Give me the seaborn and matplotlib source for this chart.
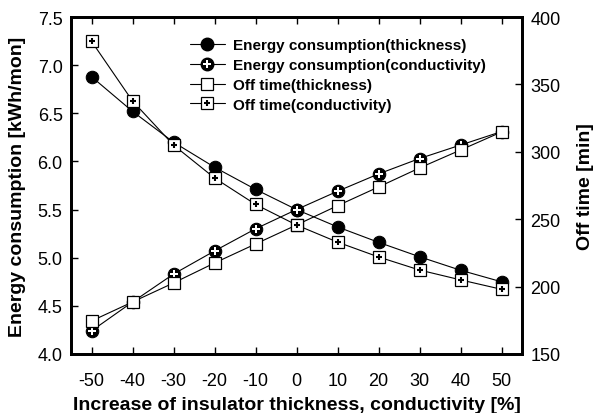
import matplotlib
matplotlib.use("Agg")
import matplotlib.pyplot as plt
import seaborn as sns
import pandas as pd
from matplotlib.lines import Line2D

sns.set_theme(style="white")
plt.rcParams['font.family'] = ['Liberation Sans', 'DejaVu Sans']
plt.rcParams['text.color'] = 'black'
plt.rcParams['axes.labelcolor'] = 'black'
plt.rcParams['xtick.color'] = 'black'
plt.rcParams['ytick.color'] = 'black'

x = [-50, -40, -30, -20, -10, 0, 10, 20, 30, 40, 50]
energy_thickness = [6.88, 6.52, 6.20, 5.94, 5.71, 5.50, 5.32, 5.16, 5.01, 4.87, 4.75]
energy_conductivity = [4.24, 4.54, 4.83, 5.07, 5.30, 5.50, 5.69, 5.87, 6.03, 6.17, 6.31]
off_thickness = [174.5, 188.6, 202.7, 217.5, 231.6, 245.7, 260.0, 273.9, 288.0, 301.3, 314.7]
off_conductivity = [382, 337.7, 305, 280.6, 261, 245.7, 233, 222, 212.3, 205, 198]

df = pd.DataFrame({"x": x, "et": energy_thickness, "ec": energy_conductivity,
                   "ot": off_thickness, "oc": off_conductivity})

fig = plt.figure(figsize=(5.93, 4.14), dpi=100)
ax = fig.add_axes([71/593, 1-355/414, (522-71)/593, (355-18)/414])
ax2 = ax.twinx()

lw = 0.8
sns.lineplot(data=df, x="x", y="et", ax=ax, color="black", lw=lw, marker="o",
             markersize=9, markerfacecolor="black", markeredgecolor="black")
sns.lineplot(data=df, x="x", y="ec", ax=ax, color="black", lw=lw, marker="o",
             markersize=9, markerfacecolor="black", markeredgecolor="black")
ax.plot(df["x"], df["ec"], ls="none", marker="P", markersize=5.5,
        markerfacecolor="white", markeredgecolor="white", markeredgewidth=0)
sns.lineplot(data=df, x="x", y="ot", ax=ax2, color="black", lw=lw, marker="s",
             markersize=9, markerfacecolor="white", markeredgecolor="black", markeredgewidth=0.9)
sns.lineplot(data=df, x="x", y="oc", ax=ax2, color="black", lw=lw, marker="s",
             markersize=9, markerfacecolor="white", markeredgecolor="black", markeredgewidth=0.9)
ax2.plot(df["x"], df["oc"], ls="none", marker="+", markersize=5,
         markeredgecolor="black", markeredgewidth=1.5)

ax.set_xlim(-55, 55)
ax.set_ylim(4.0, 7.5)
ax2.set_ylim(150, 400)
ax.set_xticks(x)
ax.set_xticklabels([str(v) for v in x])
ax.set_yticks([4.0, 4.5, 5.0, 5.5, 6.0, 6.5, 7.0, 7.5])
ax.set_yticklabels(["4.0", "4.5", "5.0", "5.5", "6.0", "6.5", "7.0", "7.5"])
ax2.set_yticks([150, 200, 250, 300, 350, 400])

for a in (ax, ax2):
    for s in a.spines.values():
        s.set_linewidth(2)
        s.set_color("black")
ax.tick_params(axis="both", direction="in", length=5, width=1, labelsize=13, colors="black",
               top=True, bottom=True, left=True, pad=6)
ax.tick_params(axis="x", pad=13)
ax2.tick_params(axis="y", direction="in", length=5, width=1, labelsize=13, colors="black", pad=6)

ax.set_xlabel("Increase of insulator thickness, conductivity [%]", fontsize=14, fontweight="bold",
              labelpad=5, color="black")
ax.set_ylabel("Energy consumption [kWh/mon]", fontsize=14, fontweight="bold", labelpad=8, color="black")
ax2.set_ylabel("Off time [min]", fontsize=14, fontweight="bold", labelpad=12, color="black")

h1 = Line2D([], [], color="black", lw=lw, marker="o", markersize=9, markerfacecolor="black")
h2a = Line2D([], [], color="black", lw=lw, marker="o", markersize=9, markerfacecolor="black")
h2b = Line2D([], [], ls="none", marker="P", markersize=5.5, markerfacecolor="white",
             markeredgecolor="white", markeredgewidth=0)
h3 = Line2D([], [], color="black", lw=lw, marker="s", markersize=9, markerfacecolor="white",
            markeredgecolor="black", markeredgewidth=0.9)
h4a = Line2D([], [], color="black", lw=lw, marker="s", markersize=9, markerfacecolor="white",
             markeredgecolor="black", markeredgewidth=0.9)
h4b = Line2D([], [], ls="none", marker="+", markersize=5, markeredgecolor="black", markeredgewidth=1.5)
leg = ax2.legend([h1, (h2a, h2b), h3, (h4a, h4b)],
                 ["Energy consumption(thickness)", "Energy consumption(conductivity)",
                  "Off time(thickness)", "Off time(conductivity)"],
                 loc="upper left", bbox_to_anchor=(0.25, 0.955), frameon=False,
                 prop={"size": 11, "weight": "bold"}, handlelength=2.3, handletextpad=0.5,
                 labelspacing=0.38, borderaxespad=0)
for t in leg.get_texts():
    t.set_color("black")

fig.savefig("out.png", dpi=100)
